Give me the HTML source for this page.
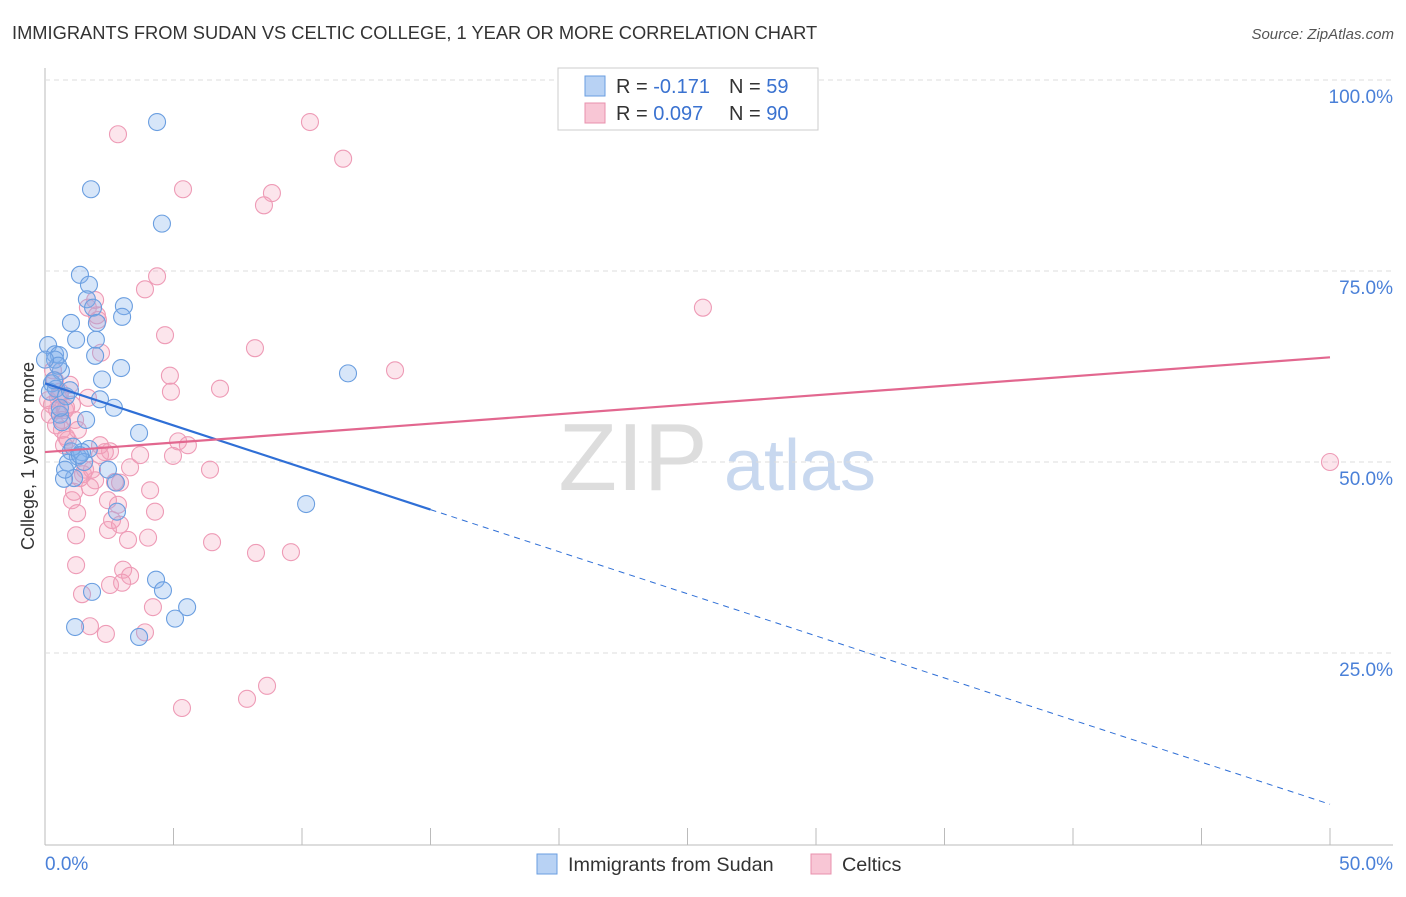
<!DOCTYPE html>
<html><head><meta charset="utf-8"><style>
body{margin:0;background:#fff;font-family:"Liberation Sans",sans-serif}
svg text{font-family:"Liberation Sans",sans-serif}
</style></head><body>
<svg id="c" width="1406" height="892" xmlns="http://www.w3.org/2000/svg">
<text x="12" y="39" font-size="18.3" fill="#333">IMMIGRANTS FROM SUDAN VS CELTIC COLLEGE, 1 YEAR OR MORE CORRELATION CHART</text>
<text x="1394" y="39" font-size="15" fill="#555" font-style="italic" text-anchor="end">Source: ZipAtlas.com</text>
<text x="633" y="490" font-size="96" fill="#ddd" font-family="Liberation Serif" text-anchor="middle">ZIP</text>
<text x="800" y="490" font-size="72" fill="#c8d8ef" text-anchor="middle">atlas</text>
<text transform="translate(34,456) rotate(-90)" font-size="18" fill="#333" text-anchor="middle">College, 1 year or more</text>
<g id="grid"></g><g id="pts"></g><g id="lines"></g>
<g>
<rect x="558" y="68" width="260" height="62" fill="#fff" stroke="#ccc"/>
<rect x="585" y="76" width="20" height="20" fill="#b8d2f4" stroke="#6a9ee0"/>
<rect x="585" y="103" width="20" height="20" fill="#f8c6d5" stroke="#e890ad"/>
<text x="616" y="93" font-size="20" fill="#333">R = <tspan fill="#3a72d0">-0.171</tspan></text>
<text x="729" y="93" font-size="20" fill="#333">N = <tspan fill="#3a72d0">59</tspan></text>
<text x="616" y="120" font-size="20" fill="#333">R = <tspan fill="#3a72d0">0.097</tspan></text>
<text x="729" y="120" font-size="20" fill="#333">N = <tspan fill="#3a72d0">90</tspan></text>
</g>
<rect x="537" y="854" width="20" height="20" fill="#b8d2f4" stroke="#6a9ee0"/>
<text x="568" y="871" font-size="19.8" fill="#333">Immigrants from Sudan</text>
<rect x="811" y="854" width="20" height="20" fill="#f8c6d5" stroke="#e890ad"/>
<text x="842" y="871" font-size="19.8" fill="#333">Celtics</text>
</svg>
<script>
const yTicks=[25,50,75,100];
const yTickLabels=["25.0%","50.0%","75.0%","100.0%"];
const xTickLabels=["0.0%","50.0%"];
const blueX=[4.36,1.79,4.55,1.36,1.71,1.63,3.07,1.87,3.0,2.02,1.01,1.21,1.98,0.12,0.39,0.54,1.95,2.96,0.62,0.27,2.22,0.43,0.82,2.14,2.68,0.58,1.6,0.66,3.66,1.01,1.71,1.44,1.28,0.89,1.13,0.74,2.76,2.8,4.32,4.59,1.83,5.53,5.06,1.17,3.66,10.16,11.79,0.39,0.19,0.58,1.09,1.52,0.51,0.0,0.97,1.36,0.78,2.45,0.35];
const blueY=[94.5,85.7,81.2,74.5,73.2,71.3,70.4,70.2,69.0,68.2,68.2,66.0,66.0,65.3,64.1,64.0,63.9,62.3,61.9,60.3,60.8,59.6,58.6,58.2,57.1,56.2,55.5,55.2,53.8,51.4,51.7,51.3,50.7,49.9,47.9,47.8,47.3,43.5,34.6,33.2,33.0,31.0,29.5,28.4,27.1,44.5,61.6,63.4,59.2,57.1,52.0,50.0,62.6,63.4,59.4,50.9,49.0,49.0,60.7];
const pinkX=[2.84,10.31,11.6,5.37,8.83,8.52,4.36,3.89,1.67,2.18,2.06,4.67,8.17,13.62,25.6,4.86,4.9,6.81,50.0,0.39,0.58,0.12,0.97,0.78,1.17,0.66,0.89,2.53,2.14,1.56,1.95,3.31,2.92,3.7,5.18,5.56,4.98,4.09,4.28,2.61,2.45,2.92,3.23,4.01,6.5,8.21,9.57,1.21,1.21,1.44,3.04,3.31,2.53,3.0,4.2,1.75,2.37,3.89,5.33,7.86,8.64,1.05,1.13,1.25,1.75,2.33,1.48,0.51,0.31,0.47,0.82,0.66,1.95,2.02,0.27,1.05,0.58,1.36,2.72,1.83,2.14,0.82,1.28,0.19,0.43,0.74,1.67,2.45,2.84,6.42];
const pinkY=[92.9,94.5,89.7,85.7,85.2,83.6,74.3,72.6,70.2,64.3,68.6,66.6,64.9,62.0,70.2,61.3,59.2,59.6,50.0,60.7,59.2,58.1,60.1,56.8,55.5,54.2,52.9,51.4,50.9,49.0,47.6,49.3,47.3,50.9,52.7,52.2,50.8,46.3,43.5,42.4,41.1,41.8,39.8,40.1,39.5,38.1,38.2,40.4,36.5,32.7,35.9,35.1,33.9,34.2,31.0,28.5,27.5,27.7,17.8,19.0,20.7,45.0,46.1,43.3,46.7,51.3,48.4,58.4,62.0,56.8,53.3,55.5,71.2,69.2,57.5,57.5,58.8,47.9,47.4,49.0,52.2,57.1,54.2,56.2,54.8,52.2,58.4,45.0,44.4,49.0];
const blueTrend=[60.3,5.2];
const pinkTrend=[51.3,63.7];
const NS="http://www.w3.org/2000/svg";
const sx=v=>45+v/50*1285, sy=v=>844-v*7.64;
function mk(t,a,p){const e=document.createElementNS(NS,t);for(const k in a)e.setAttribute(k,a[k]);p.appendChild(e);return e;}
const grid=document.getElementById('grid');
mk('line',{x1:45,y1:68,x2:45,y2:845,stroke:'#bbb'},grid);
mk('line',{x1:45,y1:845,x2:1393,y2:845,stroke:'#bbb'},grid);
for(let i=0;i<=10;i++){const l=mk('line',{x1:sx(i*5),y1:828,x2:sx(i*5),y2:845,stroke:'#bbb'},grid);

}
yTicks.forEach((v,i)=>{const l=mk('line',{x1:45,y1:sy(v),x2:1393,y2:sy(v),stroke:'#ddd','stroke-dasharray':'5,4'},grid);


const t=mk('text',{x:1393,y:sy(v)+23,'font-size':19,fill:'#4a80d8','text-anchor':'end'},grid);t.textContent=yTickLabels[i];

});
xTickLabels.forEach((s,i)=>{const t=mk('text',{x:i?1393:45,y:870,'font-size':19,fill:'#4a80d8','text-anchor':i?'end':'start'},grid);t.textContent=s;

});
const pts=document.getElementById('pts');
pinkX.forEach((x,i)=>{const c=mk('circle',{cx:sx(x),cy:sy(pinkY[i]),r:8.5,fill:'rgba(244,160,188,0.28)',stroke:'#ee9bb6','stroke-width':1.1},pts);

});
blueX.forEach((x,i)=>{const c=mk('circle',{cx:sx(x),cy:sy(blueY[i]),r:8.5,fill:'rgba(130,176,235,0.32)',stroke:'#6a9ee0','stroke-width':1.1},pts);

});
const L=document.getElementById('lines');
const by=x=>blueTrend[0]+(blueTrend[1]-blueTrend[0])*x/50;
let a=mk('line',{x1:sx(0),y1:sy(by(0)),x2:sx(15),y2:sy(by(15)),stroke:'#2f6fd6','stroke-width':2.2},L);


a=mk('line',{x1:sx(15),y1:sy(by(15)),x2:sx(50),y2:sy(by(50)),stroke:'#2f6fd6','stroke-width':1,'stroke-dasharray':'6,5'},L);


a=mk('line',{x1:sx(0),y1:sy(pinkTrend[0]),x2:sx(50),y2:sy(pinkTrend[1]),stroke:'#e2678f','stroke-width':2.2},L);


</script>
</body></html>
